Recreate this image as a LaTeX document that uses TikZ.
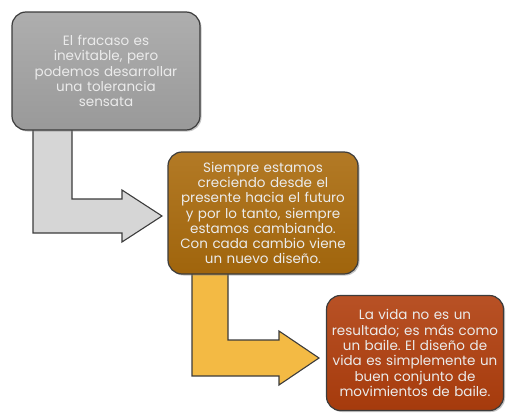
\documentclass[tikz,border=0pt]{standalone}
\usepackage{fontspec}
\setmainfont{Poppins}
\usetikzlibrary{shadows}
\frenchspacing
\definecolor{boxgray}{HTML}{A3A3A3}
\definecolor{boxgold}{HTML}{AA6B0D}
\definecolor{boxrust}{HTML}{B03E0D}
\definecolor{arrgray}{HTML}{D6D6D6}
\definecolor{arryel}{HTML}{F3BA44}
\definecolor{edgecol}{HTML}{3C3C3C}
\tikzset{
  box/.style={draw=edgecol, line width=1.2pt, rounded corners=14pt, align=center,
    text=white!92!black, inner sep=2pt,
    font=\fontsize{13.5}{15.3}\selectfont\frenchspacing,
    drop shadow={shadow xshift=1.5pt, shadow yshift=-1.5pt, opacity=0.45}},
  blockarrow/.style={draw=edgecol, line width=1.1pt, line join=miter}
}
\begin{document}
\begin{tikzpicture}[x=1pt,y=-1pt]
\useasboundingbox (0,0) rectangle (506,415);
% arrows (behind)
\draw[blockarrow, fill=arrgray] (33,120) -- (72,120) -- (72,199) -- (122,199) -- (122,190) -- (162,216) -- (122,242) -- (122,233) -- (33,233) -- cycle;
\draw[blockarrow, fill=arryel] (192,265) -- (228,265) -- (228,340) -- (279,340) -- (279,331) -- (319,358) -- (279,385) -- (279,376) -- (192,376) -- cycle;
% boxes
\node[box, top color=boxgray!88!white, bottom color=boxgray!94!black, minimum width=188pt, minimum height=118pt, text width=184pt] (b1) at (106,71)
  {El fracaso es\\inevitable, pero\\podemos desarrollar\\una tolerancia\\sensata};
\node[box, top color=boxgold!90!white, bottom color=boxgold!94!black, minimum width=190pt, minimum height=122pt, text width=186pt] (b2) at (263,213)
  {Siempre estamos\\creciendo desde el\\presente hacia el futuro\\y por lo tanto, siempre\\estamos cambiando.\\Con cada cambio viene\\un nuevo diseño.};
\node[box, top color=boxrust!90!white, bottom color=boxrust!94!black, minimum width=177pt, minimum height=115pt, text width=173pt] (b3) at (415,353)
  {La vida no es un\\resultado; es más como\\un baile. El diseño de\\vida es simplemente un\\buen conjunto de\\movimientos de baile.};
\end{tikzpicture}
\end{document}
